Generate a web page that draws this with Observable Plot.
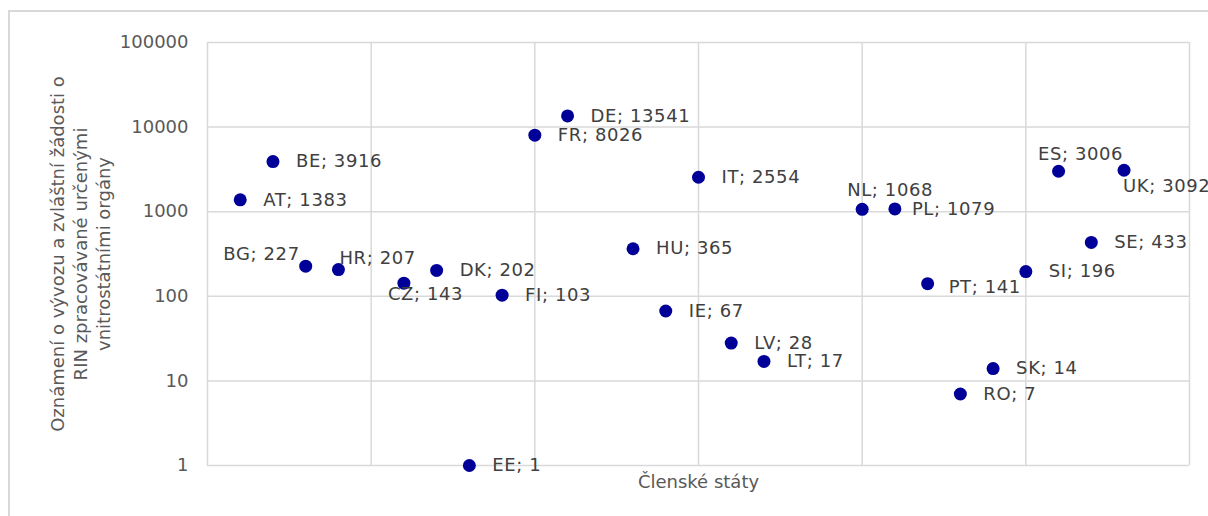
<!DOCTYPE html>
<html>
<head>
<meta charset="utf-8">
<script src="https://cdn.jsdelivr.net/npm/d3@7"></script>
<script src="https://cdn.jsdelivr.net/npm/@observablehq/plot@0.6"></script>
<style>
  html, body { margin: 0; padding: 0; background: #fff; overflow: hidden; width: 1208px; height: 516px; }
  #frame { position: absolute; left: 8px; top: 10px; width: 1400px; height: 800px; border: 2px solid #d9d9d9; box-sizing: border-box; }
  #chart { position: absolute; left: 0; top: 0; }
</style>
</head>
<body>
<div id="frame"></div>
<div id="chart"></div>
<script>
// Data
const countries = ["AT","BE","BG","HR","CZ","DK","EE","FI","FR","DE","HU","IE","IT","LV","LT","NL","PL","PT","RO","SK","SI","ES","SE","UK"];
const order     = [1, 2, 3, 4, 6, 7, 8, 9, 10, 11, 13, 14, 15, 16, 17, 20, 21, 22, 23, 24, 25, 26, 27, 28];
const values    = [1383, 3916, 227, 207, 143, 202, 1, 103, 8026, 13541, 365, 67, 2554, 28, 17, 1068, 1079, 141, 7, 14, 196, 3006, 433, 3092];
const yTicks    = [1, 10, 100, 1000, 10000, 100000];
const xGrid     = [0, 5, 10, 15, 20, 25, 30];
const yTitle    = "Oznámení o vývozu a zvláštní žádosti o\nRIN zpracovávané určenými\nvnitrostátními orgány";
const xTitle    = "Členské státy";

// Label placement (style only)
const placement = {
  BG: {dx: -6, dy: -12, textAnchor: "end"},
  HR: {dx: 1, dy: -11, textAnchor: "start"},
  CZ: {dx: -16, dy: 11, textAnchor: "start"},
  NL: {dx: -15, dy: -19, textAnchor: "start"},
  PL: {dx: 17, dy: 0, textAnchor: "start"},
  PT: {dx: 21, dy: 4, textAnchor: "start"},
  ES: {dx: 22, dy: -17, textAnchor: "middle"},
  UK: {dx: -1, dy: 16, textAnchor: "start"}
};
const defaultPlacement = {dx: 23, dy: 0, textAnchor: "start"};

const rows = countries.map((c, i) => ({country: c, x: order[i], value: values[i], label: `${c}; ${values[i]}`}));

const groups = new Map();
for (const r of rows) {
  const p = placement[r.country] || defaultPlacement;
  const key = `${p.dx}|${p.dy}|${p.textAnchor}`;
  if (!groups.has(key)) groups.set(key, {p, items: []});
  groups.get(key).items.push(r);
}

const labelMarks = [...groups.values()].map(({p, items}) =>
  Plot.text(items, {x: "x", y: "value", text: "label", dx: p.dx, dy: p.dy, textAnchor: p.textAnchor, fill: "#404040", fontSize: 18})
);

const textColor = "#595959";
const gridColor = "#d9d9d9";

const chart = Plot.plot({
  width: 1208,
  height: 516,
  marginLeft: 207,
  marginRight: 19,
  marginTop: 42,
  marginBottom: 51,
  style: {fontFamily: "'DejaVu Sans', Verdana, sans-serif", fontSize: "18px", color: textColor, background: "transparent", overflow: "visible"},
  x: {domain: [0, 30], axis: null},
  y: {type: "log", domain: [1, 100000], axis: null},
  marks: [
    Plot.ruleY(yTicks, {stroke: gridColor, strokeWidth: 1.5}),
    Plot.ruleX(xGrid, {stroke: gridColor, strokeWidth: 1.5}),
    Plot.axisY({ticks: yTicks, tickSize: 0, tickPadding: 19, tickFormat: d => String(d), label: null, fontSize: 18, fill: textColor}),
    Plot.dot(rows, {x: "x", y: "value", r: 6.5, fill: "#000099", stroke: null}),
    ...labelMarks,
    Plot.text([xTitle], {frameAnchor: "bottom", dy: 17, lineAnchor: "middle", fill: textColor, fontSize: 18}),
    Plot.text([yTitle], {frameAnchor: "left", dx: -128, rotate: -90, lineAnchor: "middle", textAnchor: "middle", lineHeight: 1.3, fill: textColor, fontSize: 18})
  ]
});

// Slightly wider spacing for the point labels (Verdana-like look)
d3.select(chart).selectAll("text")
  .filter(function() { return this.textContent.includes(";"); })
  .style("letter-spacing", "0.6px");

document.getElementById("chart").appendChild(chart);
</script>
</body>
</html>
